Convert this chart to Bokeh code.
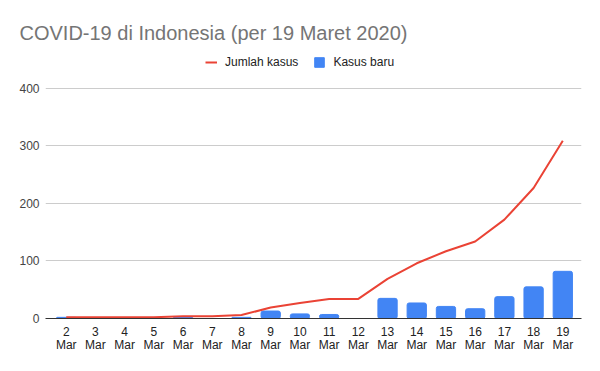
from bokeh.plotting import figure
from bokeh.models import (ColumnDataSource, Range1d, FixedTicker, Legend, LegendItem, Title, LinearAxis)
from bokeh.embed import file_html
from bokeh.resources import INLINE

days = ["2", "3", "4", "5", "6", "7", "8", "9", "10", "11", "12", "13", "14", "15", "16", "17", "18", "19"]
month = "Mar"
jumlah_kasus = [2, 2, 2, 2, 4, 4, 6, 19, 27, 34, 34, 69, 96, 117, 134, 172, 227, 309]
kasus_baru = [2, 0, 0, 0, 2, 0, 2, 13, 8, 7, 0, 35, 27, 21, 17, 38, 55, 82]
y_ticks = [0, 100, 200, 300, 400]

FONT = "Liberation Sans"
idx = list(range(len(days)))
src = ColumnDataSource(dict(x=idx, total=jumlah_kasus, new=kasus_baru))

p = figure(width=584, height=355, output_backend="svg", toolbar_location=None,
           x_range=Range1d(-0.71, len(days) - 0.36), y_range=Range1d(0, 466),
           x_axis_type=None,
           min_border_left=45, min_border_right=3, min_border_bottom=37, min_border_top=50)
p.outline_line_color = None
p.background_fill_color = "white"
p.border_fill_color = "white"

bars = p.vbar(x="x", top="new", width=0.66, source=src, color="#4285f4",
              border_radius=2)
line = p.line(x="x", y="total", source=src, color="#ea4335", line_width=2)

p.ygrid.grid_line_color = "#cccccc"
p.ygrid.ticker = FixedTicker(ticks=y_ticks)

p.yaxis.ticker = FixedTicker(ticks=y_ticks)
p.yaxis.axis_line_color = None
p.yaxis.major_tick_line_color = None
p.yaxis.minor_tick_line_color = None
p.yaxis.major_tick_out = 0
p.yaxis.major_label_text_font = FONT
p.yaxis.major_label_text_font_size = "12px"
p.yaxis.major_label_text_color = "#444444"
p.yaxis.major_label_standoff = 6

ax_day = LinearAxis(ticker=FixedTicker(ticks=idx),
                    major_label_overrides={i: d for i, d in enumerate(days)})
ax_mon = LinearAxis(ticker=FixedTicker(ticks=idx),
                    major_label_overrides={i: month for i in idx})
for ax in (ax_day, ax_mon):
    ax.major_tick_line_color = None
    ax.minor_tick_line_color = None
    ax.major_tick_out = 0
    ax.major_tick_in = 0
    ax.axis_label_standoff = 0
    ax.major_label_text_font = FONT
    ax.major_label_text_font_size = "12px"
    ax.major_label_text_color = "#222222"
ax_day.axis_line_color = "#333333"
ax_day.major_label_standoff = 8
ax_mon.axis_line_color = None
ax_mon.major_label_standoff = -1
p.add_layout(ax_day, "below")
p.add_layout(ax_mon, "below")

legend = Legend(items=[LegendItem(label="Jumlah kasus", renderers=[line]),
                       LegendItem(label="Kasus baru", renderers=[bars])],
                orientation="horizontal", location=(160, 249),
                label_text_font=FONT, label_text_font_size="12px",
                label_text_color="#222222", glyph_width=12, glyph_height=12,
                label_height=12, label_width=10,
                spacing=15, label_standoff=8, border_line_color=None,
                background_fill_alpha=0, margin=0, padding=6)
p.add_layout(legend, "center")

p.title = Title(text="COVID-19 di Indonesia (per 19 Maret 2020)", text_font=FONT,
                text_font_size="20px", text_font_style="normal",
                text_color="#757575", align="left", offset=-26, standoff=14)

open("out.html", "w").write(file_html(p, INLINE))
